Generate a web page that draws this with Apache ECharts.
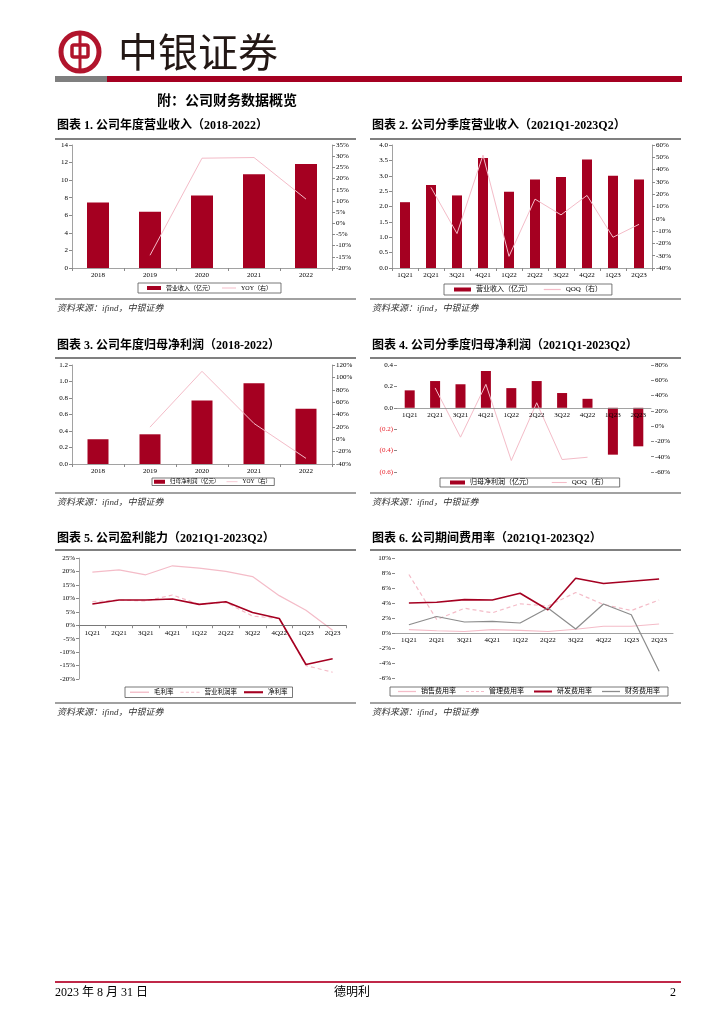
<!DOCTYPE html>
<html><head><meta charset="utf-8">
<script src="https://cdn.jsdelivr.net/npm/echarts@6/dist/echarts.min.js"></script>
<style>html,body{margin:0;padding:0;background:#fff}#c{width:724px;height:1024px}</style>
</head><body><div id="c"></div>
<script>
// ---------- data ----------
const years = ['2018','2019','2020','2021','2022'];
const quarters = ['1Q21','2Q21','3Q21','4Q21','1Q22','2Q22','3Q22','4Q22','1Q23','2Q23'];
const annualRevenue = [7.45, 6.39, 8.25, 10.68, 11.83];
const annualRevenueYoy = [null, -14.3, 29.1, 29.4, 10.8];
const quarterRevenue = [2.14, 2.70, 2.36, 3.58, 2.48, 2.88, 2.96, 3.53, 3.00, 2.88];
const quarterRevenueQoq = [null, 25.5, -12.0, 51.8, -30.5, 16.0, 3.2, 19.0, -15.0, -4.5];
const annualProfit = [0.30, 0.36, 0.77, 0.98, 0.67];
const annualProfitYoy = [null, 19.6, 109.8, 25.5, -30.9];
const quarterProfit = [0.163, 0.25, 0.22, 0.344, 0.184, 0.25, 0.138, 0.084, -0.438, -0.36];
const quarterProfitQoq = [null, 50.0, -14.4, 54.7, -45.0, 30.6, -43.7, -40.7, null, null];
const grossMargin = [19.75, 20.6, 18.75, 22.1, 21.25, 20.0, 18.1, 11.0, 5.6, -1.9];
const operatingMargin = [8.75, 9.4, 9.0, 11.25, 7.75, 8.5, 3.4, 2.5, -15.0, -17.5];
const netMargin = [7.9, 9.4, 9.4, 9.75, 7.75, 8.75, 4.75, 2.5, -14.6, -12.5];
const sellingRate = [0.44, 0.3, 0.2, 0.44, 0.35, 0.2, 0.5, 0.9, 0.9, 1.2];
const adminRate = [7.8, 1.8, 3.3, 2.7, 3.9, 3.6, 5.4, 3.8, 3.0, 4.4];
const rdRate = [4.0, 4.1, 4.45, 4.4, 5.3, 3.1, 7.3, 6.6, 6.9, 7.2];
const financeRate = [1.1, 2.2, 1.47, 1.55, 1.33, 3.33, 0.53, 3.87, 2.44, -5.1];

const titles = [
  '图表 1. 公司年度营业收入（2018-2022）',
  '图表 2. 公司分季度营业收入（2021Q1-2023Q2）',
  '图表 3. 公司年度归母净利润（2018-2022）',
  '图表 4. 公司分季度归母净利润（2021Q1-2023Q2）',
  '图表 5. 公司盈利能力（2021Q1-2023Q2）',
  '图表 6. 公司期间费用率（2021Q1-2023Q2）'
];
const sourceText = '资料来源：ifind，中银证券';

// axis ranges [min, max, interval]
const r1L = [0, 14, 2], r1R = [-20, 35, 5];
const r2L = [0, 4, 0.5], r2R = [-40, 60, 10];
const r3L = [0, 1.2, 0.2], r3R = [-40, 120, 20];
const r4L = [-0.6, 0.4, 0.2], r4R = [-60, 80, 20];
const r5 = [-20, 25, 5];
const r6 = [-6, 10, 2];

// ---------- style ----------
const RED = '#A50021', PINK = '#F4BCC8', GREY = '#8C8C8C';
const FONT = '"Liberation Serif","Noto Sans CJK SC",serif';
const AX = '#8a8a8a';

const grids = [
  {left: 72, top: 145, width: 260, height: 123},
  {left: 392, top: 145, width: 260, height: 123},
  {left: 72, top: 365, width: 260, height: 99},
  {left: 397, top: 365, width: 254, height: 107},
  {left: 79, top: 558, width: 267, height: 121},
  {left: 395, top: 558, width: 278, height: 120}
];
// move x axis (line + labels) up to the zero level of the value axis
const zeroOffset = (gi, r) => -grids[gi].height * (0 - r[0]) / (r[1] - r[0]);

function xAx(i, cats, extra) {
  return Object.assign({
    type: 'category', gridIndex: i, data: cats, boundaryGap: true, z: 5,
    axisLine: {onZero: false, lineStyle: {color: AX, width: 0.8}},
    axisTick: {show: true, length: 3, lineStyle: {color: AX}},
    axisLabel: {fontSize: 7, fontFamily: FONT, color: '#000', margin: 4, interval: 0}
  }, extra || {});
}
function yAx(i, pos, r, fmt, extra) {
  return Object.assign({
    type: 'value', gridIndex: i, position: pos, min: r[0], max: r[1], interval: r[2],
    splitLine: {show: false},
    axisLine: {show: true, lineStyle: {color: AX, width: 0.8}},
    axisTick: {show: true, length: 3, lineStyle: {color: AX}},
    axisLabel: {fontSize: 7, fontFamily: FONT, color: '#000', margin: 4, formatter: fmt}
  }, extra || {});
}
const pct = v => Math.round(v) + '%';
const dec1 = v => v.toFixed(1);
const dec0 = v => String(Math.round(v));

const ICON_SOLID = 'path://M0,0H14V1H0Z';
const ICON_THICK = 'path://M0,0H9V1H0Z';
const ICON_DASH = 'path://M0,0H3V1H0Z M5,0H8V1H5Z M10,0H13V1H10Z M15,0H18V1H15Z';

function legend(left, top, names, o) {
  return {
    left: left, top: top, orient: 'horizontal',
    data: names,
    itemWidth: o.iw, itemHeight: 4, itemGap: o.gap,
    padding: o.pad, borderColor: '#555', borderWidth: 0.8,
    textStyle: {fontSize: o.fs, fontFamily: FONT, color: '#000'},
    selectedMode: false
  };
}

// ---------- graphics ----------
const g = [];
function txt(x, y, s, font, opt) {
  g.push({type: 'text', x: x, y: y, silent: true,
    style: Object.assign({text: s, font: font, fill: '#000', verticalAlign: 'middle', align: 'left'}, opt || {})});
}
function ln(x1, y1, x2, y2, c, w) {
  g.push({type: 'line', silent: true, shape: {x1: x1, y1: y1, x2: x2, y2: y2}, style: {stroke: c, lineWidth: w}});
}
// logo
const LR = '#B1142C';
g.push({type: 'circle', shape: {cx: 80, cy: 52, r: 19}, style: {fill: 'none', stroke: LR, lineWidth: 5}});
g.push({type: 'rect', shape: {x: 72, y: 45, width: 16, height: 12, r: 2}, style: {fill: 'none', stroke: LR, lineWidth: 3.5}});
g.push({type: 'rect', shape: {x: 78.5, y: 33, width: 3, height: 38}, style: {fill: LR}});
txt(118, 52, '中银证券', '40px "Noto Sans CJK SC"', {fill: '#231815'});
g.push({type: 'rect', shape: {x: 55, y: 76, width: 52, height: 6}, style: {fill: '#7f7f7f'}});
g.push({type: 'rect', shape: {x: 107, y: 76, width: 575, height: 6}, style: {fill: RED}});
txt(157, 101, '附：公司财务数据概览', 'bold 14px ' + FONT);

const colX = [[55, 356], [370, 681]];
const rows = [{t: 126, u: 139, s: 299, st: 309}, {t: 346, u: 358, s: 493, st: 503}, {t: 539, u: 550, s: 703, st: 713}];
rows.forEach((r, ri) => {
  colX.forEach((c, ci) => {
    txt(c[0] + 2, r.t, titles[ri * 2 + ci], 'bold 12px ' + FONT);
    ln(c[0], r.u, c[1], r.u, '#808080', 2);
    ln(c[0], r.s, c[1], r.s, '#444', 1.2);
    txt(c[0] + 2, r.st, sourceText, 'italic 9px ' + FONT, {fill: '#333'});
  });
});
// footer
ln(55, 982, 681, 982, '#C02848', 2);
txt(55, 993, '2023 年 8 月 31 日', '12px ' + FONT);
txt(352, 993, '德明利', '12px ' + FONT, {align: 'center'});
txt(676, 993, '2', '12px ' + FONT, {align: 'right'});

// ---------- option ----------
const negFmt = v => {
  const a = Math.abs(v).toFixed(1);
  return v < -1e-9 ? '{n|(' + a + ')}' : a;
};

const option = {
  backgroundColor: '#fff',
  animation: false,
  grid: grids.map(gr => Object.assign({containLabel: false}, gr)),
  xAxis: [
    xAx(0, years), xAx(1, quarters), xAx(2, years),
    xAx(3, quarters, {offset: zeroOffset(3, r4L), axisTick: {show: false}}),
    xAx(4, quarters, {offset: zeroOffset(4, r5), axisLine: {onZero: false, lineStyle: {color: '#555', width: 0.8}}}),
    xAx(5, quarters, {offset: zeroOffset(5, r6), axisTick: {show: false}})
  ],
  yAxis: [
    yAx(0, 'left', r1L, dec0),
    yAx(0, 'right', r1R, pct),
    yAx(1, 'left', r2L, dec1),
    yAx(1, 'right', r2R, pct),
    yAx(2, 'left', r3L, dec1),
    yAx(2, 'right', r3R, pct),
    yAx(3, 'left', r4L, negFmt, {axisLine: {show: false},
      axisLabel: {fontSize: 7, fontFamily: FONT, color: '#000', margin: 4, formatter: negFmt,
        rich: {n: {fontSize: 7, fontFamily: FONT, color: '#E8202A'}}}}),
    yAx(3, 'right', r4R, pct, {axisLine: {show: false}}),
    yAx(4, 'left', r5, pct),
    yAx(5, 'left', r6, pct, {axisLine: {show: false}})
  ],
  legend: [
    legend(138, 283, [{name: '营业收入（亿元）', icon: 'rect'}, {name: 'YOY（右）', icon: ICON_SOLID}], {iw: 14, gap: 8, pad: [2, 9], fs: 6}),
    legend(444, 284, [{name: '营业收入（亿元） ', icon: 'rect'}, {name: 'QOQ（右）', icon: ICON_SOLID}], {iw: 17, gap: 10, pad: [2, 10], fs: 7}),
    legend(152, 478, [{name: '归母净利润（亿元）', icon: 'rect'}, {name: 'YOY（右） ', icon: ICON_SOLID}], {iw: 11, gap: 7, pad: [1, 2], fs: 5.5}),
    legend(440, 478, [{name: '归母净利润（亿元） ', icon: 'rect'}, {name: 'QOQ（右） ', icon: ICON_SOLID}], {iw: 15, gap: 17, pad: [1, 10], fs: 7}),
    legend(125, 687, [{name: '毛利率', icon: ICON_SOLID}, {name: '营业利润率', icon: ICON_DASH}, {name: '净利率', icon: ICON_THICK}], {iw: 19, gap: 7, pad: [2, 5], fs: 6.5}),
    legend(390, 687, [{name: '销售费用率', icon: ICON_SOLID}, {name: '管理费用率', icon: ICON_DASH}, {name: '研发费用率', icon: ICON_THICK}, {name: '财务费用率', icon: ICON_SOLID}], {iw: 18, gap: 10, pad: [1, 8], fs: 7})
  ],
  graphic: g,
  series: [
    {name: '营业收入（亿元）', type: 'bar', xAxisIndex: 0, yAxisIndex: 0, data: annualRevenue, barWidth: 22, itemStyle: {color: RED}},
    {name: 'YOY（右）', type: 'line', xAxisIndex: 0, yAxisIndex: 1, data: annualRevenueYoy, symbol: 'none', lineStyle: {color: PINK, width: 1}, itemStyle: {color: PINK}},
    {name: '营业收入（亿元） ', type: 'bar', xAxisIndex: 1, yAxisIndex: 2, data: quarterRevenue, barWidth: 10, itemStyle: {color: RED}},
    {name: 'QOQ（右）', type: 'line', xAxisIndex: 1, yAxisIndex: 3, data: quarterRevenueQoq, symbol: 'none', lineStyle: {color: PINK, width: 1}, itemStyle: {color: PINK}},
    {name: '归母净利润（亿元）', type: 'bar', xAxisIndex: 2, yAxisIndex: 4, data: annualProfit, barWidth: 21, itemStyle: {color: RED}},
    {name: 'YOY（右） ', type: 'line', xAxisIndex: 2, yAxisIndex: 5, data: annualProfitYoy, symbol: 'none', lineStyle: {color: PINK, width: 1}, itemStyle: {color: PINK}},
    {name: '归母净利润（亿元） ', type: 'bar', xAxisIndex: 3, yAxisIndex: 6, data: quarterProfit, barWidth: 10, itemStyle: {color: RED}},
    {name: 'QOQ（右） ', type: 'line', xAxisIndex: 3, yAxisIndex: 7, data: quarterProfitQoq, symbol: 'none', lineStyle: {color: PINK, width: 1}, itemStyle: {color: PINK}},
    {name: '毛利率', type: 'line', xAxisIndex: 4, yAxisIndex: 8, data: grossMargin, symbol: 'none', lineStyle: {color: PINK, width: 1.2}, itemStyle: {color: PINK}},
    {name: '营业利润率', type: 'line', xAxisIndex: 4, yAxisIndex: 8, data: operatingMargin, symbol: 'none', lineStyle: {color: PINK, width: 1.2, type: [4, 3]}, itemStyle: {color: PINK}},
    {name: '净利率', type: 'line', xAxisIndex: 4, yAxisIndex: 8, data: netMargin, symbol: 'none', lineStyle: {color: RED, width: 1.6}, itemStyle: {color: RED}},
    {name: '销售费用率', type: 'line', xAxisIndex: 5, yAxisIndex: 9, data: sellingRate, symbol: 'none', lineStyle: {color: PINK, width: 1.2}, itemStyle: {color: PINK}},
    {name: '管理费用率', type: 'line', xAxisIndex: 5, yAxisIndex: 9, data: adminRate, symbol: 'none', lineStyle: {color: PINK, width: 1.2, type: [4, 3]}, itemStyle: {color: PINK}},
    {name: '研发费用率', type: 'line', xAxisIndex: 5, yAxisIndex: 9, data: rdRate, symbol: 'none', lineStyle: {color: RED, width: 1.6}, itemStyle: {color: RED}},
    {name: '财务费用率', type: 'line', xAxisIndex: 5, yAxisIndex: 9, data: financeRate, symbol: 'none', lineStyle: {color: GREY, width: 1.2}, itemStyle: {color: GREY}}
  ]
};
const chart = echarts.init(document.getElementById('c'), null, {renderer: 'canvas'});
chart.setOption(option);
</script></body></html>
